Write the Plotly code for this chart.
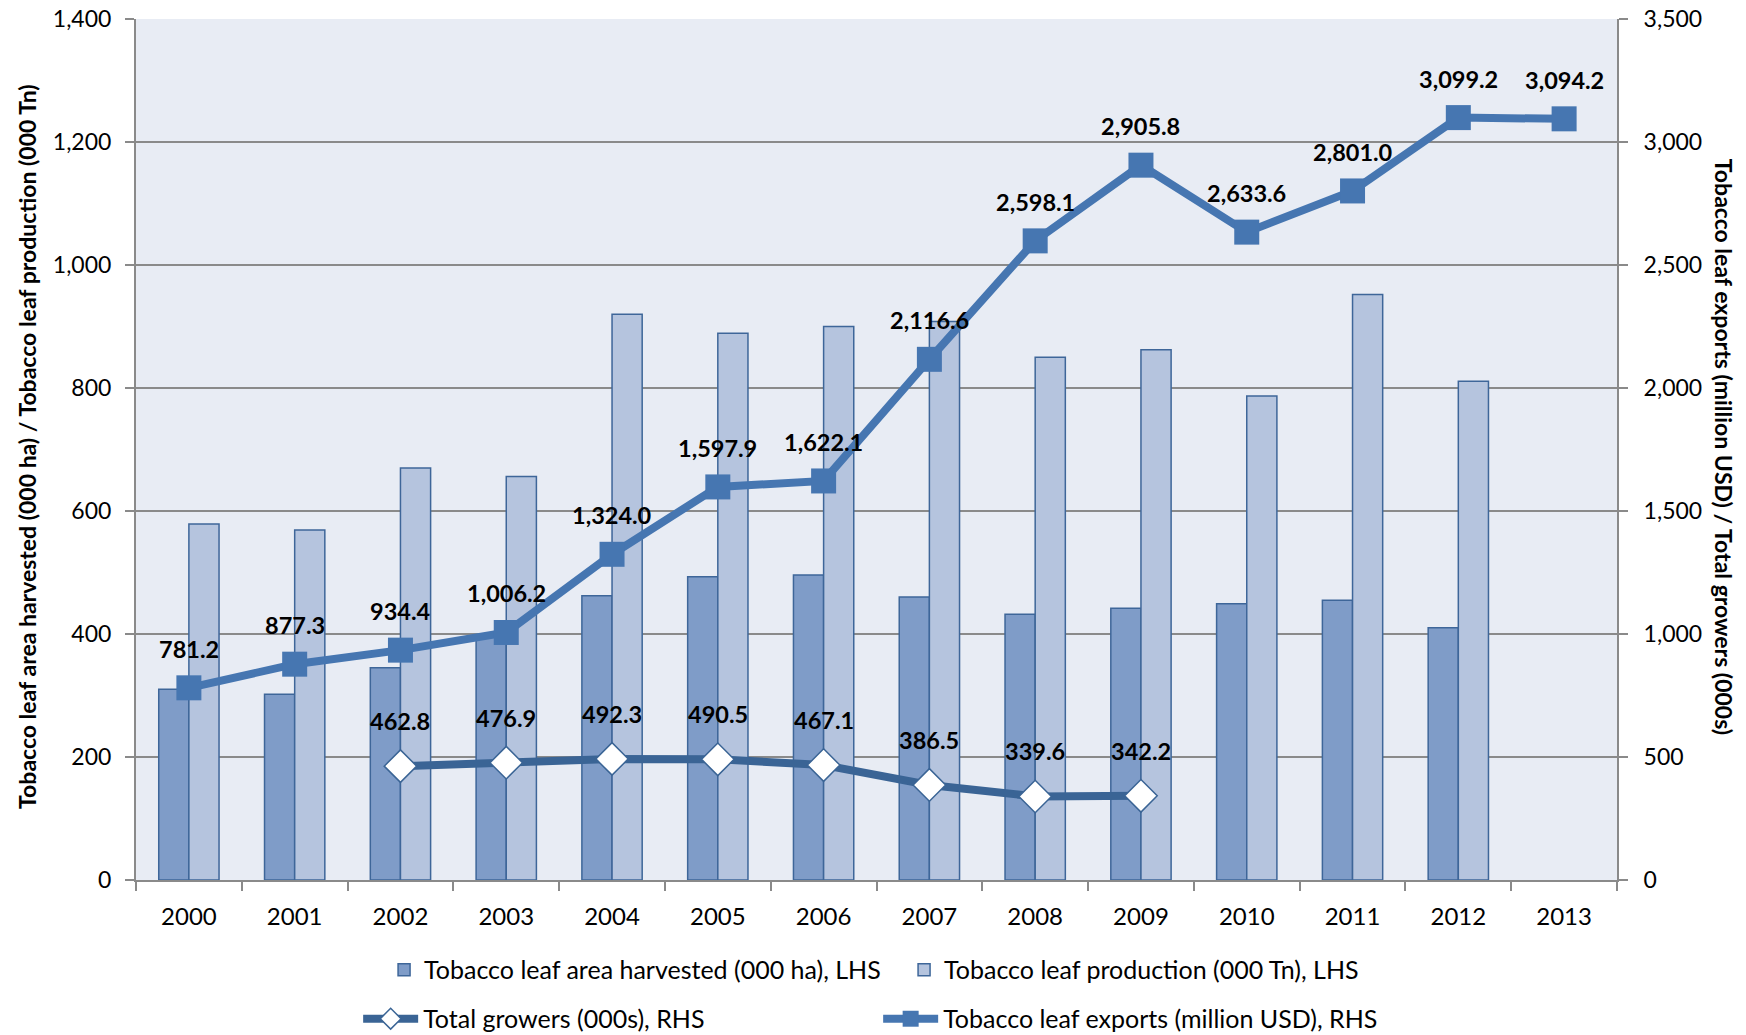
import plotly.graph_objects as go

years = ["2000", "2001", "2002", "2003", "2004", "2005", "2006", "2007",
         "2008", "2009", "2010", "2011", "2012", "2013"]
area_harvested = [310, 302, 345, 398, 462, 493, 496, 460, 432, 442, 449, 455, 410, None]
production = [579, 569, 670, 656, 920, 889, 900, 908, 850, 862, 787, 952, 811, None]
growers_years = ["2002", "2003", "2004", "2005", "2006", "2007", "2008", "2009"]
growers = [462.8, 476.9, 492.3, 490.5, 467.1, 386.5, 339.6, 342.2]
exports = [781.2, 877.3, 934.4, 1006.2, 1324.0, 1597.9, 1622.1, 2116.6,
           2598.1, 2905.8, 2633.6, 2801.0, 3099.2, 3094.2]

FONT = "Lato"
DARK_BAR = "#7F9CC8"
LIGHT_BAR = "#B5C4DE"
BAR_EDGE = "#3E6699"
EXPORT_COL = "#4676B1"
GROWER_COL = "#3A6495"
GRID = "#8A8A8A"

fig = go.Figure()

fig.add_trace(go.Bar(
    x=years, y=area_harvested, name="Tobacco leaf area harvested (000 ha), LHS",
    marker=dict(color=DARK_BAR, line=dict(color=BAR_EDGE, width=1.5)),
    legend="legend", yaxis="y"))
fig.add_trace(go.Bar(
    x=years, y=production, name="Tobacco leaf production (000 Tn), LHS",
    marker=dict(color=LIGHT_BAR, line=dict(color=BAR_EDGE, width=1.5)),
    legend="legend", yaxis="y"))
fig.add_trace(go.Scatter(
    x=growers_years, y=growers, name="Total growers (000s), RHS", mode="lines+markers",
    line=dict(color=GROWER_COL, width=8),
    marker=dict(symbol="diamond", size=25, color="white", line=dict(color=GROWER_COL, width=1.5)),
    legend="legend2", yaxis="y2"))
fig.add_trace(go.Scatter(
    x=years, y=exports, name="Tobacco leaf exports (million USD), RHS", mode="lines+markers",
    line=dict(color=EXPORT_COL, width=8),
    marker=dict(symbol="square", size=25, color=EXPORT_COL),
    legend="legend2", yaxis="y2"))

annotations = []
for yr, v in zip(years, exports):
    annotations.append(dict(x=years.index(yr), y=v, xref="x", yref="y2", text=f"{v:,.1f}",
                            showarrow=False, yshift=39,
                            font=dict(family=FONT, size=23.5, color="black", weight="bold")))
for yr, v in zip(growers_years, growers):
    annotations.append(dict(x=years.index(yr), y=v, xref="x", yref="y2", text=f"{v:,.1f}",
                            showarrow=False, yshift=45,
                            font=dict(family=FONT, size=23.5, color="black", weight="bold")))
annotations.append(dict(x=-0.0736, y=0.503, xref="paper", yref="paper",
                        text="Tobacco leaf area harvested (000 ha) / Tobacco leaf production (000 Tn)",
                        textangle=-90, showarrow=False, xanchor="center", yanchor="middle",
                        font=dict(family=FONT, size=23, color="black", weight="bold")))
annotations.append(dict(x=1.0723, y=0.503, xref="paper", yref="paper",
                        text="Tobacco leaf exports (million USD) / Total growers (000s)",
                        textangle=90, showarrow=False, xanchor="center", yanchor="middle",
                        font=dict(family=FONT, size=23, color="black", weight="bold")))

# the page body adds an 8px offset, so the figure is 8px smaller on each axis
fig.update_layout(
    width=1738, height=1027,
    margin=dict(l=128, r=129, t=11, b=155, autoexpand=False),
    paper_bgcolor="white", plot_bgcolor="#E8ECF4",
    barmode="group", bargap=0.43, bargroupgap=0,
    font=dict(family=FONT, size=22, color="black"),
    xaxis=dict(type="category", range=[-0.5, len(years) - 0.5], showgrid=False,
               ticks="outside", tickson="boundaries", tickangle=0, ticklabelstandoff=14,
               ticklen=9, tickcolor=GRID, tickwidth=2, showline=True, linecolor=GRID,
               linewidth=2, tickfont=dict(family=FONT, size=24)),
    yaxis=dict(range=[0, 1400], dtick=200, tickformat=",d", showgrid=True, gridcolor=GRID,
               gridwidth=2, ticks="outside", ticklen=9, tickcolor=GRID, tickwidth=2,
               ticklabelstandoff=9, ticklabeloverflow="allow",
               showline=True, linecolor=GRID, linewidth=2, zeroline=False,
               tickfont=dict(family=FONT, size=23)),
    yaxis2=dict(range=[0, 3500], dtick=500, tickformat=",d", overlaying="y", side="right",
                showgrid=False, ticks="outside", ticklen=9, tickcolor=GRID, tickwidth=2,
                ticklabelstandoff=11, ticklabeloverflow="allow",
                showline=True, linecolor=GRID, linewidth=2, zeroline=False,
                tickfont=dict(family=FONT, size=23)),
    legend=dict(orientation="h", x=0.1675, xanchor="left", y=-0.1045, yanchor="middle",
                entrywidth=475, font=dict(family=FONT, size=25), bgcolor="rgba(0,0,0,0)"),
    legend2=dict(orientation="h", x=0.150, xanchor="left", y=-0.1614, yanchor="middle",
                 itemwidth=55, entrywidth=450, font=dict(family=FONT, size=25),
                 bgcolor="rgba(0,0,0,0)"),
    annotations=annotations,
    showlegend=True,
)

fig.write_html("out.html")
